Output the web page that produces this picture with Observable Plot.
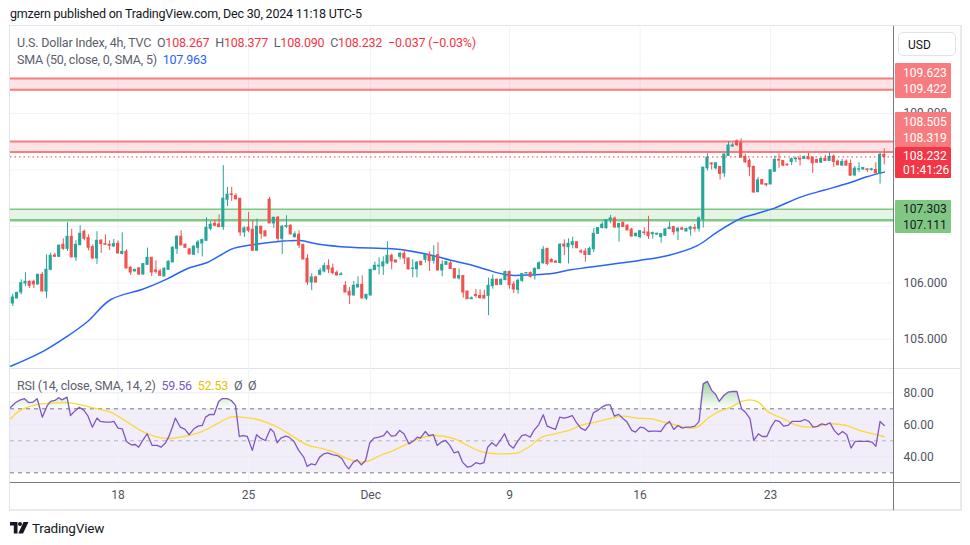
<!DOCTYPE html>
<html><head><meta charset="utf-8">
<script src="https://cdn.jsdelivr.net/npm/d3@7"></script>
<script src="https://cdn.jsdelivr.net/npm/@observablehq/plot@0.6"></script>
<style>
body{margin:0;background:#fff;}
#root{position:relative;width:970px;height:545px;overflow:hidden;font-family:Roboto,"Noto Sans",sans-serif;color:#131722;}
#root svg{position:absolute;}
.t{position:absolute;white-space:pre;line-height:1;}
.box{position:absolute;box-sizing:border-box;}
.lab{position:absolute;left:8px;font-size:12px;line-height:1;}
</style></head>
<body><div id="root"></div>
<script>
// ---------------- DATA ----------------
const open = [105.633,105.722,105.828,105.988,106.018,106.018,105.970,106.142,105.846,106.231,
106.485,106.461,106.674,106.603,106.816,106.450,106.668,106.905,106.793,106.633,
106.432,106.745,106.686,106.674,106.645,106.692,106.510,106.550,106.266,106.201,
106.254,106.148,106.319,106.444,106.219,106.201,106.112,106.231,106.361,106.603,
106.816,106.674,106.592,106.497,106.621,106.698,106.745,106.958,107.047,107.035,
106.988,107.473,107.568,107.538,107.491,106.893,106.976,106.941,106.568,106.994,
106.911,107.473,107.053,107.154,106.781,106.994,107.012,106.810,106.852,106.669,
106.426,106.006,106.095,106.142,106.201,106.296,106.254,106.177,106.136,105.947,
105.840,105.775,105.917,105.964,105.722,105.775,106.225,106.290,106.290,106.343,
106.479,106.396,106.461,106.515,106.432,106.248,106.242,106.373,106.408,106.497,
106.390,106.491,106.219,106.319,106.345,106.244,106.078,106.119,105.846,105.709,
105.786,105.768,105.768,105.768,105.941,106.054,105.965,106.048,106.191,105.970,
105.875,106.036,106.167,106.173,106.125,106.244,106.345,106.601,106.405,106.375,
106.351,106.679,106.631,106.673,106.720,106.554,106.554,106.494,106.595,106.869,
106.970,106.970,107.107,107.137,106.982,107.066,107.012,106.941,106.828,106.810,
106.893,106.893,106.863,106.857,106.810,106.834,106.953,106.988,106.911,106.965,
106.911,106.947,106.971,106.959,107.125,108.030,108.113,108.030,108.054,107.941,
108.250,108.417,108.506,108.476,108.232,108.161,108.054,107.607,107.822,107.750,
107.744,107.970,108.179,108.161,108.095,108.143,108.191,108.197,108.197,108.226,
108.220,108.179,108.131,108.197,108.161,108.238,108.149,108.078,108.149,108.107,
107.905,108.006,108.012,108.012,108.000,108.000,107.929,108.267];
const high = [105.799,105.830,106.053,106.177,106.035,106.047,106.150,106.183,106.497,106.527,
106.527,106.674,106.781,107.071,106.952,106.745,107.012,106.935,106.852,106.674,
106.905,106.769,106.852,106.745,106.769,106.745,106.887,106.586,106.290,106.235,
106.272,106.343,106.615,106.450,106.390,106.237,106.266,106.390,106.639,106.834,
106.923,106.692,106.609,106.663,106.751,106.775,107.154,107.083,107.106,107.207,
108.077,107.692,107.692,107.580,107.495,106.994,107.248,107.101,107.130,107.000,
106.923,107.515,107.160,107.177,107.018,107.189,107.029,106.905,106.923,106.686,
106.497,106.160,106.118,106.254,106.349,106.408,106.331,106.213,106.183,106.024,
105.917,106.024,106.106,106.124,105.790,106.235,106.367,106.444,106.461,106.728,
106.509,106.400,106.538,106.592,106.435,106.408,106.379,106.375,106.521,106.550,
106.657,106.710,106.390,106.379,106.381,106.250,106.244,106.131,105.850,105.750,
105.881,105.875,105.869,106.084,106.137,106.066,106.066,106.209,106.209,106.024,
106.066,106.167,106.185,106.191,106.268,106.375,106.643,106.613,106.429,106.399,
106.697,106.762,106.780,106.810,106.725,106.589,106.601,106.631,106.964,106.976,
107.072,107.119,107.197,107.167,107.048,107.070,107.030,106.970,106.881,106.920,
106.976,107.179,106.899,106.881,106.869,106.959,107.078,107.000,106.976,106.988,
106.971,107.000,107.036,107.167,108.045,108.286,108.131,108.131,108.060,108.286,
108.506,108.476,108.536,108.554,108.280,108.197,108.072,107.869,107.834,107.755,
108.000,108.250,108.286,108.167,108.107,108.214,108.226,108.250,108.250,108.298,
108.226,108.191,108.208,108.262,108.316,108.268,108.179,108.191,108.179,108.179,
108.060,108.131,108.048,108.018,108.030,108.131,108.298,108.377];
const low = [105.580,105.720,105.787,105.935,105.899,105.899,105.965,105.840,105.722,106.213,
106.450,106.450,106.574,106.556,106.445,106.379,106.657,106.745,106.568,106.414,
106.325,106.521,106.670,106.574,106.627,106.509,106.500,106.250,106.130,106.195,
106.130,106.136,106.315,106.112,106.154,106.120,106.110,106.230,106.360,106.503,
106.660,106.620,106.500,106.495,106.515,106.461,106.734,106.923,106.994,106.976,
106.929,107.355,107.444,107.475,106.822,106.805,106.887,106.565,106.565,106.775,
106.820,107.050,106.964,106.728,106.503,106.964,106.855,106.793,106.609,106.410,
105.953,105.864,106.000,106.124,106.177,106.166,106.142,106.128,106.130,105.825,
105.615,105.770,105.915,105.720,105.686,105.770,106.220,106.142,106.130,106.331,
106.231,106.358,106.408,106.325,106.231,106.089,106.089,106.302,106.349,106.201,
106.331,106.215,106.106,106.308,106.240,106.075,106.048,105.726,105.705,105.703,
105.726,105.714,105.718,105.417,105.887,105.955,105.959,106.036,105.887,105.810,
105.798,106.006,106.155,106.084,106.048,106.232,106.334,106.304,106.360,106.345,
106.334,106.482,106.334,106.601,106.610,106.512,106.363,106.490,106.536,106.865,
106.959,106.947,107.048,106.964,106.720,106.985,106.925,106.810,106.810,106.780,
106.839,106.768,106.774,106.839,106.703,106.822,106.941,106.840,106.750,106.929,
106.899,106.828,106.899,106.899,106.971,107.982,108.000,108.000,107.822,107.869,
108.238,108.405,108.417,108.215,108.119,107.881,107.589,107.600,107.740,107.703,
107.740,107.965,108.030,108.060,108.072,108.078,108.131,108.072,108.191,108.179,
107.941,108.119,108.119,108.155,108.155,108.048,108.078,108.072,108.072,107.893,
107.881,107.953,107.994,107.953,107.982,107.935,107.750,108.090];
const close = [105.740,105.822,105.994,106.018,105.947,105.970,106.142,105.846,106.231,106.479,
106.461,106.657,106.603,106.816,106.450,106.674,106.870,106.781,106.621,106.432,
106.745,106.686,106.674,106.657,106.686,106.521,106.550,106.254,106.183,106.231,
106.148,106.331,106.444,106.183,106.195,106.124,106.248,106.373,106.621,106.816,
106.663,106.621,106.503,106.639,106.716,106.757,106.976,107.029,107.012,106.988,
107.491,107.562,107.556,107.479,106.893,106.964,106.923,106.568,106.994,106.870,
106.822,107.053,107.154,106.781,106.994,107.006,106.858,106.858,106.663,106.414,
106.006,106.095,106.006,106.213,106.296,106.237,106.171,106.130,106.148,105.828,
105.775,105.947,105.964,105.722,105.787,106.231,106.302,106.302,106.361,106.479,
106.379,106.361,106.515,106.432,106.237,106.254,106.355,106.313,106.497,106.385,
106.461,106.219,106.319,106.367,106.244,106.078,106.119,105.828,105.709,105.726,
105.768,105.726,105.720,105.947,106.054,105.959,106.054,106.191,105.959,105.881,
106.036,106.155,106.173,106.107,106.244,106.345,106.584,106.334,106.363,106.357,
106.673,106.643,106.691,106.720,106.613,106.542,106.494,106.601,106.869,106.970,
107.030,107.113,107.143,106.982,107.042,106.988,106.929,106.822,106.869,106.917,
106.881,106.828,106.881,106.869,106.863,106.947,106.976,106.899,106.959,106.941,
106.953,106.982,106.959,107.143,108.042,108.220,108.101,108.119,107.929,108.274,
108.435,108.435,108.441,108.220,108.137,108.048,107.601,107.816,107.744,107.732,
107.994,108.179,108.167,108.078,108.084,108.191,108.203,108.185,108.226,108.191,
108.119,108.131,108.197,108.161,108.232,108.143,108.084,108.143,108.078,107.899,
108.024,108.012,108.036,108.000,108.012,107.941,108.269,108.232];

// SMA (50, close, 0, SMA, 5): bar position, value
const smaIdx = [-0.5,7.3,12.9,17.7,23.2,31.0,36.7,41.4,46.2,52.4,56.5,64.3,68.3,72.3,80.2,88.1,92.1,99.9,104.0,108.7,
112.7,116.6,119.0,123.0,128.5,132.5,136.4,144.3,149.1,155.4,162.6,167.3,172.9,176.8,180.8,187.1,192.6,198.2,202.9,207];
const smaVal = [104.52,104.79,105.05,105.31,105.70,105.89,106.07,106.25,106.36,106.61,106.67,106.74,106.75,106.69,106.63,106.61,106.59,106.48,106.40,106.32,
106.23,106.15,106.13,106.14,106.17,106.23,106.27,106.35,106.40,106.48,106.66,106.90,107.14,107.23,107.32,107.52,107.64,107.76,107.88,107.963];

// RSI (14)
const rsiIdx = [-0.5,0.6,1.8,2.8,3.8,4.8,5.8,7.0,8.2,9.0,10.0,10.9,11.7,12.9,13.7,14.9,15.8,16.9,17.8,18.9,
20.0,20.8,22.0,23.2,24.0,25.0,26.0,27.0,28.1,29.1,29.9,31.0,31.9,33.1,34.3,35.2,36.3,37.1,37.9,38.6,
39.8,40.9,41.9,43.0,44.0,45.0,45.8,46.8,47.8,48.9,49.7,50.9,51.9,52.9,53.8,54.7,55.7,56.9,57.9,58.8,
60.0,61.2,62.0,62.8,63.7,64.8,65.6,66.8,67.9,69.1,69.9,70.9,71.9,72.9,73.9,74.8,75.9,77.1,78.2,79.0,
79.8,80.9,81.8,82.8,83.8,84.8,85.8,86.9,88.1,88.9,89.9,90.9,91.9,92.9,94.1,95.3,96.1,96.8,98.0,98.8,
99.9,100.8,101.8,102.8,103.8,104.8,105.8,106.8,108.0,109.0,110.0,111.0,111.9,112.8,113.8,114.8,115.8,116.8,117.9,118.9,
119.9,120.9,121.8,122.9,123.8,124.9,126.0,126.9,128.1,128.9,129.9,130.9,131.9,132.9,133.9,134.9,136.0,136.9,137.9,138.9,
139.9,141.0,141.9,142.9,143.9,145.0,145.9,147.0,147.9,149.0,149.9,151.0,151.9,153.0,153.9,155.0,156.0,157.0,158.0,159.0,
160.0,161.0,162.0,163.0,164.0,165.0,166.0,167.0,167.8,168.9,169.9,170.8,172.0,173.1,174.0,175.1,176.0,177.1,178.0,179.1,
180.1,181.1,182.1,183.1,184.1,185.1,186.1,187.1,188.1,189.1,190.1,191.1,192.1,193.1,194.1,195.1,196.1,197.1,198.1,199.1,
200.1,201.1,202.1,203.1,204.1,205.0,206.0,207.0];
const rsiVal = [71.0,73.8,75.6,76.3,73.8,74.2,76.3,64.8,72.1,74.6,75.2,76.9,75.6,77.3,65.8,69.0,71.0,69.0,65.8,58.5,
64.2,62.1,61.7,61.7,62.1,57.9,57.5,49.6,47.5,47.7,46.0,50.8,54.4,47.1,47.1,46.0,48.8,52.9,58.5,64.2,
58.5,57.1,53.8,57.5,59.2,59.6,64.8,66.5,66.3,74.6,76.3,76.3,75.2,72.1,52.7,53.3,52.7,44.0,53.8,51.7,
50.2,57.5,55.4,48.8,51.7,52.9,52.3,49.6,44.0,39.8,34.0,35.6,35.0,39.8,41.9,42.5,41.3,40.8,38.8,35.0,
32.5,36.7,38.1,35.0,37.7,48.8,51.7,52.3,53.3,56.0,52.9,53.3,56.5,54.4,48.1,50.2,52.3,51.7,55.8,53.3,
53.8,47.1,49.2,50.2,47.1,42.5,43.3,36.7,33.5,34.2,36.3,35.6,36.3,46.0,48.8,46.7,50.2,54.4,47.5,45.4,
49.6,53.3,53.8,52.3,56.5,60.0,66.3,59.2,57.9,57.1,64.8,64.2,64.8,65.8,61.3,57.9,56.5,59.6,67.5,69.0,
71.0,72.5,72.5,65.4,66.5,63.8,61.7,56.5,55.4,58.5,58.1,55.8,56.0,56.0,55.8,60.0,62.1,57.1,59.6,57.9,
58.5,58.5,59.2,62.0,85.6,87.1,81.5,78.8,74.6,78.3,80.4,80.8,80.8,70.0,67.9,63.8,50.2,54.4,52.7,52.7,
58.5,62.7,62.1,59.2,59.6,62.1,62.1,62.1,63.3,62.1,58.5,59.0,60.6,60.0,61.3,56.5,53.8,55.8,53.8,45.4,
49.6,49.6,49.6,49.6,49.2,46.5,62.1,59.56];

// RSI-based MA (SMA 14)
const maIdx = [-0.5,1.8,5.0,9.0,12.9,16.1,19.3,23.2,27.2,30.3,33.5,36.7,39.8,44.6,48.5,51.7,54.1,57.3,60.4,63.6,
66.8,69.9,73.1,76.3,79.4,82.6,84.2,87.3,90.5,93.7,96.8,100.0,104.8,108.0,111.2,114.4,117.6,120.0,122.5,125.7,
128.9,132.1,135.3,138.5,141.7,145.0,148.2,151.4,154.6,157.8,161.0,162.6,165.0,167.4,170.6,173.1,175.1,177.1,179.5,182.7,
185.9,189.1,192.3,193.9,197.9,201.1,204.3,207.0];
const maVal = [63.8,69.0,72.1,73.5,73.8,72.5,70.4,67.9,61.7,56.5,52.9,51.3,52.3,55.4,60.6,64.8,64.8,63.8,61.3,57.5,
52.3,47.5,45.4,42.9,38.8,36.7,37.1,40.8,44.0,48.1,51.7,53.3,51.3,47.1,43.3,41.9,41.9,42.5,46.0,52.3,
54.4,56.5,60.0,61.7,63.8,65.4,64.2,63.8,61.7,59.6,57.9,58.5,63.8,67.9,71.0,74.6,75.6,74.2,67.9,64.2,
60.0,58.5,59.6,60.6,59.6,56.5,54.4,52.53];

// zones / levels
const redZones = [[109.422, 109.623], [108.319, 108.505]];
const greenZones = [[107.111, 107.303]];
const countdown = "01:41:26";

// axes
const xTickIdx = [25, 56, 85, 118, 149, 180];
const xTickLabels = ["18", "25", "Dec", "9", "16", "23"];
const priceGrid = [105, 106, 107, 108, 109];
const priceTickLabels = [105, 106, 109];   // 107 / 108 sit under the price tags
const rsiTicks = [40, 60, 80];
const rsiBands = [30, 50, 70];

// ---------------- BUILD ----------------
const root = document.getElementById("root");
const FONT = "Roboto, 'Noto Sans', sans-serif";
const UP = "#26a69a", DOWN = "#ef5350";
const n = close.length;
const candles = close.map((c, i) => ({i, o: open[i], h: high[i], l: low[i], c}));
const sma = smaIdx.map((i, k) => ({i, v: smaVal[k]}));
const rsi = rsiIdx.map((i, k) => ({i, v: rsiVal[k]}));
const rsiMA = maIdx.map((i, k) => ({i, v: maVal[k]}));
const lastPrice = close[n - 1];
const chg = close[n - 1] - close[n - 2];
const minus = s => s.replace("-", "\u2212");

const xDom = [-0.546, 209.19];

function div(cls, left, top, html, style = "") {
  const d = document.createElement("div");
  d.className = cls;
  d.style.cssText = `left:${left}px;top:${top}px;` + style;
  d.innerHTML = html;
  root.appendChild(d);
  return d;
}

// frame
div("box", 9, 25, "", "width:953px;height:486px;border:1px solid #e0e3eb;border-bottom:2px solid #e8e9ef;border-right:2px solid #e8e9ef;");
div("box", 10, 368, "", "width:950px;height:1px;background:#e0e3eb;");

const zoneRects = [
  ...redZones.map(([lo, hi]) => ({lo, hi, fill: "rgba(242,54,69,0.14)"})),
  ...greenZones.map(([lo, hi]) => ({lo, hi, fill: "rgba(76,175,80,0.14)"}))
];
const zoneLines = [
  ...redZones.flatMap(([lo, hi]) => [{v: lo, c: "#f77c80", w: 2}, {v: hi, c: "#f77c80", w: 2}]),
  ...greenZones.flatMap(([lo, hi]) => [{v: lo, c: "#81c784", w: 2.5}, {v: hi, c: "#81c784", w: 1.5}])
];

const main = Plot.plot({
  width: 970, height: 342,
  marginLeft: 10, marginRight: 77, marginTop: 0, marginBottom: 0,
  x: {domain: xDom, axis: null},
  y: {domain: [104.463, 110.527], axis: "right", ticks: priceTickLabels, tickFormat: d => d.toFixed(3),
      tickSize: 0, tickPadding: 10, label: null},
  color: {type: "identity"},
  style: {fontFamily: FONT, fontSize: "12px", color: "#50535e", background: "transparent"},
  marks: [
    Plot.ruleY(priceGrid, {stroke: "#f0f3fa"}),
    Plot.ruleX(xTickIdx, {stroke: "#f0f3fa"}),
    Plot.rect(zoneRects, {x1: () => xDom[0], x2: () => xDom[1], y1: "lo", y2: "hi", fill: "fill"}),
    Plot.ruleY(zoneLines, {y: "v", stroke: "c", strokeWidth: "w"}),
    Plot.line(sma, {x: "i", y: "v", stroke: "#2962ff", strokeWidth: 1.5, curve: "catmull-rom"}),
    Plot.ruleX(candles, {x: "i", y1: "l", y2: "h", stroke: d => d.c >= d.o ? UP : DOWN, strokeWidth: 1}),
    Plot.rect(candles, {x1: d => d.i - 0.37, x2: d => d.i + 0.37, y1: "o", y2: "c",
      fill: d => d.c >= d.o ? UP : DOWN, insetTop: -0.5, insetBottom: -0.5}),
    Plot.ruleY([lastPrice], {stroke: "#f23645", strokeWidth: 1, strokeDasharray: "1.5,3"})
  ]
});
main.style.left = "0px"; main.style.top = "27px";
root.appendChild(main);
const Y = v => 27 + main.scale("y").apply(v);

const rsiPlot = Plot.plot({
  width: 970, height: 140,
  marginLeft: 10, marginRight: 77, marginTop: 0, marginBottom: 27,
  x: {domain: xDom, ticks: xTickIdx, tickFormat: d => xTickLabels[xTickIdx.indexOf(d)],
      tickSize: 0, tickPadding: 8, label: null},
  y: {domain: [23.94, 94.56], axis: "right", ticks: rsiTicks, tickFormat: d => d.toFixed(2),
      tickSize: 0, tickPadding: 10, label: null},
  style: {fontFamily: FONT, fontSize: "12px", color: "#50535e", background: "transparent"},
  marks: [
    Plot.rect([{lo: rsiBands[0], hi: rsiBands[2]}], {x1: () => xDom[0], x2: () => xDom[1], y1: "lo", y2: "hi", fill: "rgba(126,87,194,0.1)"}),
    Plot.ruleY(rsiTicks, {stroke: "#ebe8f4"}),
    Plot.ruleX(xTickIdx, {stroke: "#f0f3fa"}),
    Plot.ruleY([rsiBands[0], rsiBands[2]], {stroke: "#787b86", strokeDasharray: "4,4"}),
    Plot.ruleY([rsiBands[1]], {stroke: "#b2b5be", strokeDasharray: "4,4"}),
    Plot.areaY(rsi, {x: "i", y1: () => 70, y2: d => Math.max(70, d.v), fill: "url(#obGrad)"}),
    Plot.line(rsiMA, {x: "i", y: "v", stroke: "#fdd835", strokeWidth: 1.3, curve: "catmull-rom"}),
    Plot.line(rsi, {x: "i", y: "v", stroke: "#7e57c2", strokeWidth: 1.3})
  ]
});
const defs = document.createElementNS("http://www.w3.org/2000/svg", "defs");
defs.innerHTML = '<linearGradient id="obGrad" x1="0" y1="0" x2="0" y2="1"><stop offset="0" stop-color="#4caf50" stop-opacity="0.55"/><stop offset="1" stop-color="#4caf50" stop-opacity="0.02"/></linearGradient>';
rsiPlot.prepend(defs);
rsiPlot.style.left = "0px"; rsiPlot.style.top = "369px";
root.appendChild(rsiPlot);

// axis separators
div("box", 893, 26, "", "width:1px;height:484px;background:#787b86;");
div("box", 10, 482, "", "width:950px;height:1px;background:#787b86;");

// header + legends
const TXT = "font-size:12.5px;letter-spacing:-0.2px;";
div("t", 10, 8, "gmzern published on TradingView.com, Dec 30, 2024 11:18 UTC-5", TXT + "color:#131722;");
const red = "#f23645", gray = "#5d606b";
div("t", 17, 37,
  `<span style="color:${gray}">U.S. Dollar Index, 4h, TVC</span>  ` +
  `<span style="color:${gray}">O</span><span style="color:${red}">${open[n-1].toFixed(3)}</span>  ` +
  `<span style="color:${gray}">H</span><span style="color:${red}">${high[n-1].toFixed(3)}</span>  ` +
  `<span style="color:${gray}">L</span><span style="color:${red}">${low[n-1].toFixed(3)}</span>  ` +
  `<span style="color:${gray}">C</span><span style="color:${red}">${close[n-1].toFixed(3)}</span>  ` +
  `<span style="color:${red}">${minus(chg.toFixed(3))} (${minus((chg / close[n-2] * 100).toFixed(2))}%)</span>`,
  TXT);
div("t", 17, 54,
  `<span style="color:${gray}">SMA (50, close, 0, SMA, 5)</span>  <span style="color:#2962ff">${smaVal[smaVal.length-1].toFixed(3)}</span>`,
  TXT);
div("t", 17, 380,
  `<span style="color:${gray}">RSI (14, close, SMA, 14, 2)</span>  <span style="color:#7e57c2">${rsiVal[rsiVal.length-1].toFixed(2)}</span>  ` +
  `<span style="color:#e8c400">${maVal[maVal.length-1].toFixed(2)}</span>  <span style="color:${gray}">\u00d8  \u00d8</span>`,
  TXT);

// right-axis price tags
const H = 16.6;
function tag(top, bottom, bg, fg, texts) {
  const b = div("box", 895, top, "", `width:56px;height:${bottom - top}px;background:${bg};border-radius:1px;`);
  texts.forEach(([txt, cy]) => {
    const l = document.createElement("div");
    l.className = "lab";
    l.style.cssText += `top:${cy - top - 6}px;color:${fg};`;
    l.textContent = txt;
    b.appendChild(l);
  });
}
const cCur = Y(lastPrice);
tag(cCur - 9, cCur + 22, "#f23645", "#fff", [[lastPrice.toFixed(3), cCur], [countdown, cCur + 14]]);
{
  const [lo, hi] = redZones[0];
  const c2 = Y(lo), c1 = Math.min(Y(hi), c2 - H);
  tag(c1 - 9.4, c2 + 9, "#f77c80", "#fff", [[hi.toFixed(3), c1], [lo.toFixed(3), c2]]);
}
{
  const [lo, hi] = redZones[1];
  const c2 = Math.min(Y(lo), cCur - 9 - 9), c1 = Math.min(Y(hi), c2 - H);
  tag(c1 - 9.4, c2 + 9, "#f77c80", "#fff", [[hi.toFixed(3), c1], [lo.toFixed(3), c2]]);
}
{
  const [lo, hi] = greenZones[0];
  const c1 = Y(hi), c2 = Math.max(Y(lo), c1 + H);
  tag(c1 - 9, c2 + 8, "#81c784", "#131722", [[hi.toFixed(3), c1], [lo.toFixed(3), c2]]);
}
div("box", 898, 32, '<div class="lab" style="left:9px;top:6px;color:#131722">USD</div>', "width:58px;height:24px;border:1px solid #e0e3eb;border-radius:5px;background:#fff;");

// TradingView logo
div("t", 10, 520,
  '<svg width="19" height="12" viewBox="0 0 19 12" style="position:relative;display:inline-block;vertical-align:-1px"><path d="M0 0H7.5V11.5H3.8V3.6H0Z" fill="#131722"/><circle cx="10" cy="2" r="2" fill="#131722"/><path d="M13.5 0H18.5L13 11.5H8.3Z" fill="#131722"/></svg>' +
  '<span style="font-size:13.5px;color:#131722;margin-left:3px;letter-spacing:-0.2px">TradingView</span>', "");
</script>
</body></html>
